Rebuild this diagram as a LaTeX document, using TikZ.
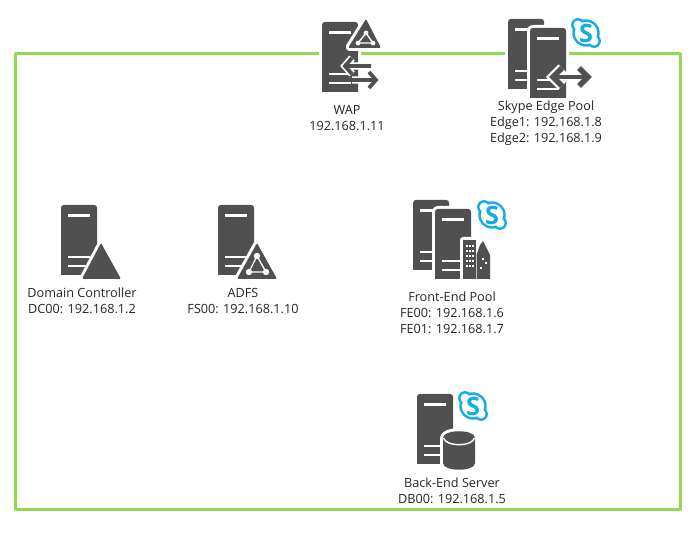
\documentclass[tikz,border=0pt]{standalone}
\usepackage{fontspec}
\setmainfont{Open Sans}
\definecolor{srvdark}{HTML}{505050}
\definecolor{skypeblue}{HTML}{14ACE8}
\definecolor{framegreen}{HTML}{92D850}
\tikzset{
  frameline/.style={draw=framegreen,line width=2.25pt,line cap=butt,line join=round},
  lbl/.style={align=center,inner sep=0pt,text=black!85,font=\fontsize{9.5pt}{12pt}\selectfont},
  halo/.style={draw=white,line width=4.5pt,line join=round},
  darkfill/.style={fill=srvdark},
  whitebar/.style={fill=white},
  net/.style={draw=white,line width=1pt},
  arrowhalo/.style={draw=white,line width=5.5pt,line join=miter},
  arrowline/.style={draw=srvdark,line width=2.8pt,line join=miter},
}
\newcommand{\srvbox}[2]{%
  \begin{scope}[shift={(#1,#2)}]
    \def\bodyshape{(0,70) -- (0,3) .. controls (0,1) and (1,0) .. (3,0) -- (33,0) .. controls (35,0) and (36,1) .. (36,3) -- (36,70) -- cycle}
    \path[halo] \bodyshape;
    \path[darkfill] \bodyshape;
    \fill[whitebar] (7,9) rectangle (29,12);
    \fill[whitebar] (7,51) rectangle (29,53.5);
    \fill[whitebar] (7,60) rectangle (29,62.5);
  \end{scope}}
\newcommand{\skypelogo}[3]{%
  \begin{scope}[shift={(#2,#3)}]
    \fill[skypeblue] (0,0) circle (10.3pt) (-8,-8) circle (5.2pt) (8,8) circle (5.2pt);
    \fill[white] (0,0) circle (8.4pt) (-8,-8) circle (3.4pt) (8,8) circle (3.4pt);
    \node[inner sep=0pt,text=skypeblue,font=\fontsize{19pt}{19pt}\bfseries\selectfont] (#1) at (0,0) {S};
  \end{scope}}
\begin{document}
\begin{tikzpicture}[x=0.75pt,y=-0.75pt]
\useasboundingbox (0,0) rectangle (700,534);
\fill[white] (0,0) rectangle (700,534);
% frame
\draw[frameline] (319,54) -- (15,54) -- (15,510) -- (680,510) -- (680,54) -- (569,54);
\draw[frameline] (361,54) -- (505,54);
% WAP
\srvbox{322}{22}
\path[halo,rounded corners=1pt] (366,19) -- (381,48) -- (348,48) -- cycle;
\path[darkfill,rounded corners=1pt] (366,19) -- (381,48) -- (348,48) -- cycle;
\draw[net] (366,33) -- (373,43) -- (358,43) -- cycle;
\fill[white] (366,33) circle (1.8pt) (373,43) circle (1.8pt) (358,43) circle (1.8pt);
\draw[arrowhalo] (371,66) -- (345,66) (352,58) -- (345,66) -- (352,74);
\draw[arrowhalo] (352,80) -- (375,80) (369,72) -- (375,80) -- (369,88);
\draw[arrowline] (371,66) -- (346,66) (352,58) -- (345,66) -- (352,74);
\draw[arrowline] (352,80) -- (375,80) (369,72) -- (376,80) -- (369,88);
\node[lbl] (wap) at (347,118) {WAP\\192.168.1.11};
% Edge pool
\srvbox{508}{19}
\srvbox{530}{28}
\draw[draw=white,line width=7.5pt,line join=miter] (553,77) -- (588,77) (562,68) -- (553,77) -- (562,86) (579,68) -- (588,77) -- (579,86);
\draw[draw=srvdark,line width=3.6pt] (553,77) -- (588,77);
\draw[draw=srvdark,line width=4pt,line join=miter] (562,68) -- (553,77) -- (562,86);
\draw[draw=srvdark,line width=4pt,line join=miter] (579,68) -- (588,77) -- (579,86);
\skypelogo{edgeS}{586}{33}
\node[lbl] (edge) at (546,123) {Skype Edge Pool\\Edge1: 192.168.1.8\\Edge2: 192.168.1.9};
% Domain controller
\srvbox{61}{205}
\path[halo,rounded corners=1pt] (101,243) -- (121,279) -- (82,279) -- cycle;
\path[darkfill,rounded corners=1pt] (101,243) -- (121,279) -- (82,279) -- cycle;
\node[lbl] (dc) at (82,301) {Domain Controller\\DC00: 192.168.1.2};
% ADFS
\srvbox{218}{205}
\path[halo,rounded corners=1pt] (257,243) -- (277,279) -- (237,279) -- cycle;
\path[darkfill,rounded corners=1pt] (257,243) -- (277,279) -- (237,279) -- cycle;
\draw[net] (257,256) -- (266,272) -- (249,272) -- cycle;
\fill[white] (257,256) circle (2.4pt) (266,272) circle (2.4pt) (249,272) circle (2.4pt);
\node[lbl] (adfs) at (243,301) {ADFS\\FS00: 192.168.1.10};
% Front-end pool
\srvbox{413}{200}
\srvbox{435}{209}
\path[halo] (463,279) -- (463,240) -- (476,240) -- (477,255) -- (480,245) -- (483,242) -- (486,247) -- (490,255) -- (490,279) -- cycle;
\fill[srvdark] (463,279) -- (463,240) -- (475.5,240) -- (475.5,279) -- cycle;
\fill[srvdark] (476.5,279) -- (476.5,255) -- (480,245) -- (483,241) -- (486,247) -- (490,255) -- (490,279) -- cycle;
\foreach \cx in {466,469,472} \foreach \cy in {245,250,255,260,265}
  \fill[white] (\cx,\cy) rectangle ++(2,2);
\foreach \cx/\cy in {481.5/258,485/262,480/267}
  \fill[white] (\cx,\cy) rectangle ++(2,2);
\skypelogo{feS}{492}{215}
\node[lbl] (fe) at (452,313) {Front-End Pool\\FE00: 192.168.1.6\\FE01: 192.168.1.7};
% Back-end server
\srvbox{417}{394}
\path[halo] (443,438) .. controls (443,429) and (475,429) .. (475,438) -- (475,463) .. controls (475,472) and (443,472) .. (443,463) -- cycle;
\path[darkfill] (443,438) .. controls (443,429) and (475,429) .. (475,438) -- (475,463) .. controls (475,472) and (443,472) .. (443,463) -- cycle;
\draw[draw=white,line width=1.1pt] (443.5,438) .. controls (446,447) and (472,447) .. (474.5,438);
\skypelogo{beS}{473}{406}
\node[lbl] (be) at (452,491) {Back-End Server\\DB00: 192.168.1.5};
\end{tikzpicture}
\end{document}
